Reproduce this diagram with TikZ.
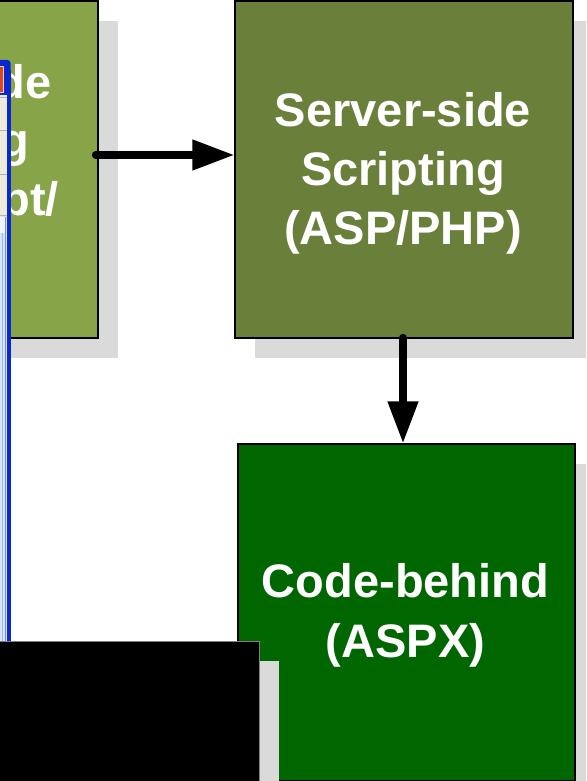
\documentclass[tikz,border=0pt]{standalone}
\usepackage{fontspec}
\setmainfont{Liberation Sans}
\usetikzlibrary{arrows.meta}
\definecolor{lgreen}{RGB}{136,164,72}
\definecolor{ogreen}{RGB}{106,127,58}
\definecolor{dgreen}{RGB}{0,102,0}
\definecolor{shadowgray}{RGB}{218,218,218}
\definecolor{winblue}{RGB}{8,40,210}
\definecolor{winlight}{RGB}{214,226,246}
\definecolor{winstripe}{RGB}{160,186,236}
\definecolor{winbeige}{RGB}{238,235,220}
\definecolor{winred}{RGB}{214,74,30}
\tikzset{
  box/.style={rectangle, draw=black, line width=1.2pt, inner sep=0pt,
    preaction={fill=shadowgray, draw=none, transform canvas={xshift=20pt,yshift=-20pt}}},
  lbl/.style={text=white, inner sep=0pt, anchor=base, font=\bfseries\fontsize{47}{51}\selectfont},
  lblr/.style={lbl, anchor=base east},
  conn/.style={line width=7.5pt, line cap=round, -{Triangle[length=42pt,width=29pt]}}
}
\begin{document}
\begin{tikzpicture}[x=1pt,y=-1pt]
\clip (0,0) rectangle (586,781);
\fill[white] (0,0) rectangle (586,781);
% boxes
\node[box, fill=lgreen, minimum width=338pt, minimum height=337pt] (lb) at (-71,169.5) {};
\node[box, fill=ogreen, minimum width=338pt, minimum height=337pt] (sb) at (404,169.5) {};
\node[box, fill=dgreen, minimum width=337pt, minimum height=337pt] (cb) at (406.5,612.5) {};
% left box visible text fragments
\node[lblr] (l1) at (52,99) {de};
\node[lblr] (l2) at (29,157) {g};
\node[lblr] (l3) at (59,215) {pt/};
% server-side text
\node[lbl] (s1) at (403,127) {Server-side};
\node[lbl] (s2) at (403,185.5) {Scripting};
\node[lbl] (s3) at (403,244) {(ASP/PHP)};
% code-behind text
\node[lbl] (c1) at (405.5,597) {Code-behind};
\node[lbl] (c2) at (405.5,657) {(ASPX)};
% window edge
\fill[winlight] (0,62) rectangle (7,781);
\fill[winbeige] (0,95) rectangle (7,215);
\draw[gray!60, line width=0.8pt] (0,97) -- (7,97) (0,130) -- (7,130) (0,174) -- (7,174) (0,215) -- (7,215);
\fill[white!85!winstripe] (0,217) rectangle (5,233);
\draw[winstripe, line width=1pt] (2,233) -- (2,781);
\draw[winstripe!70!winblue, line width=1pt] (5.5,217) -- (5.5,781);
\fill[winblue, rounded corners=3pt] (-5,60) rectangle (10.5,95);
\fill[winblue] (6.5,70) rectangle (10.5,781);
\fill[winred, draw=white!70!winred, line width=0.6pt] (-3,66) rectangle (3,92);
% black box with shadow
\node[box, fill=black, draw=gray, line width=0.8pt, minimum width=359pt, minimum height=160pt] (bk) at (79.5,721) {};
% connectors
\draw[conn] ([xshift=-3pt,yshift=14.5pt]lb.east) -- ([yshift=14.5pt]sb.west);
\draw[conn] ([xshift=-1pt,yshift=1pt]sb.south) -- ([xshift=-1pt]sb.south |- cb.north);
\end{tikzpicture}
\end{document}
